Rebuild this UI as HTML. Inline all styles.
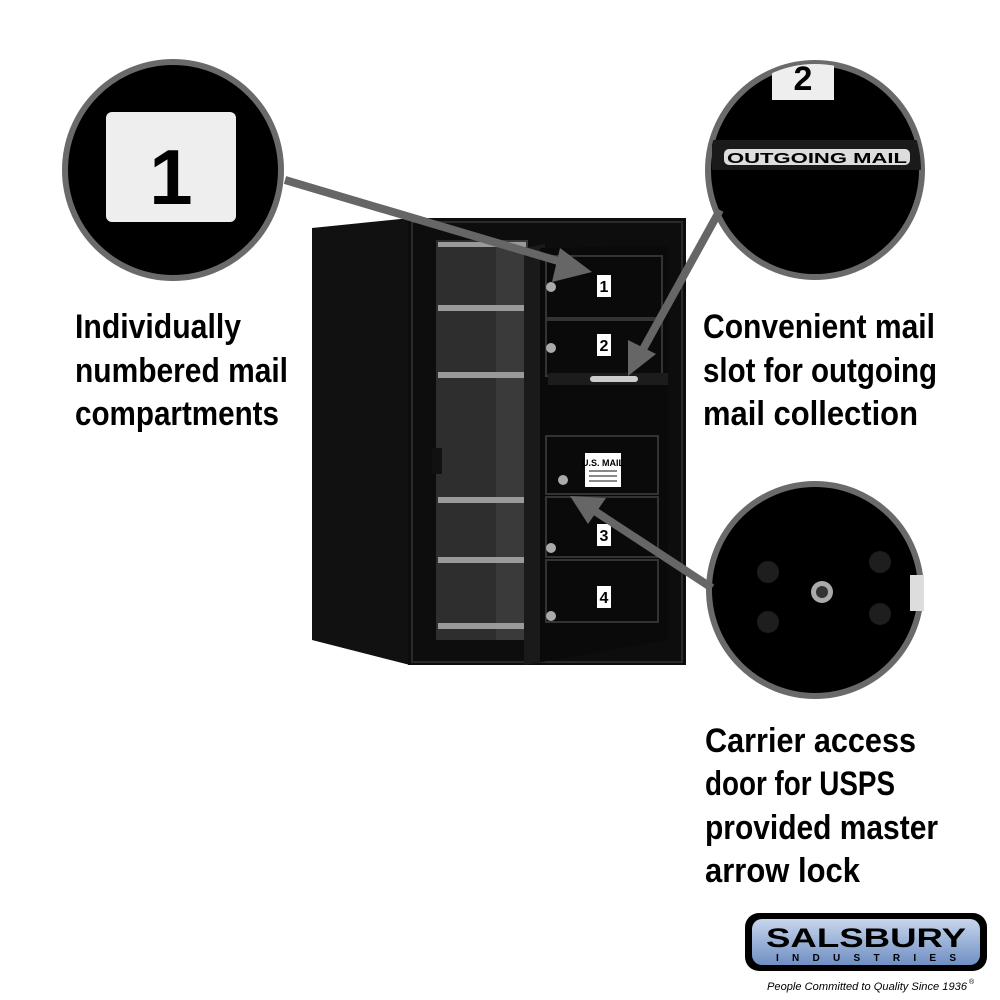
<!DOCTYPE html>
<html><head><style>body{margin:0;background:#fff}svg{display:block}</style></head><body>
<svg width="1000" height="1000" viewBox="0 0 1000 1000" xmlns="http://www.w3.org/2000/svg">
<rect width="1000" height="1000" fill="#fff"/>
<!-- cabinet -->
<polygon points="312,228 410,218 410,665 312,640" fill="#111"/>
<rect x="408" y="218" width="278" height="447" fill="#0d0d0d"/>
<rect x="412" y="222" width="270" height="440" fill="none" stroke="#2a2a2a" stroke-width="2"/>
<rect x="436" y="240" width="92" height="400" fill="#3a3a3a"/>
<rect x="436" y="240" width="60" height="400" fill="#2e2e2e"/>
<g fill="#9a9a9a">
<rect x="438" y="305" width="88" height="6"/><rect x="438" y="372" width="88" height="6"/>
<rect x="438" y="497" width="88" height="6"/><rect x="438" y="557" width="88" height="6"/>
<rect x="438" y="623" width="88" height="6"/><rect x="438" y="242" width="88" height="5"/>
</g>
<rect x="432" y="448" width="10" height="26" fill="#111"/>
<polygon points="524,248 545,244 545,662 524,665" fill="#1a1a1a"/>
<polygon points="540,248 668,246 668,640 540,662" fill="#0a0a0a"/>
<g stroke="#333" stroke-width="2" fill="none">
<rect x="546" y="256" width="116" height="62"/><rect x="546" y="320" width="116" height="56"/>
<rect x="546" y="436" width="112" height="58"/><rect x="546" y="497" width="112" height="60"/><rect x="546" y="560" width="112" height="62"/>
</g>
<rect x="548" y="373" width="120" height="12" fill="#1c1c1c"/>
<rect x="590" y="376" width="48" height="6" rx="3" fill="#ccc"/>
<g fill="#fff"><rect x="597" y="275" width="14" height="22"/><rect x="597" y="334" width="14" height="22"/>
<rect x="597" y="524" width="14" height="22"/><rect x="597" y="586" width="14" height="22"/>
<rect x="585" y="453" width="36" height="34"/></g>
<text x="603" y="466" font-family="Liberation Sans" font-weight="bold" font-size="9" text-anchor="middle">U.S. MAIL</text>
<g fill="#888"><rect x="589" y="470" width="28" height="2"/><rect x="589" y="475" width="28" height="2"/><rect x="589" y="480" width="28" height="2"/></g>
<g font-family="Liberation Sans" font-weight="bold" font-size="16" fill="#000" text-anchor="middle">
<text x="604" y="292">1</text><text x="604" y="351">2</text><text x="604" y="541">3</text><text x="604" y="603">4</text></g>
<g fill="#aaa"><circle cx="551" cy="287" r="5"/><circle cx="551" cy="348" r="5"/><circle cx="563" cy="480" r="5"/><circle cx="551" cy="548" r="5"/><circle cx="551" cy="616" r="5"/></g>
<!-- circles -->
<circle cx="173" cy="170" r="108" fill="#000" stroke="#6a6a6a" stroke-width="6"/>
<rect x="106" y="112" width="130" height="110" rx="6" fill="#eee"/>
<text x="171" y="204" font-family="Liberation Sans" font-weight="bold" font-size="78" text-anchor="middle">1</text>
<clipPath id="c2"><circle cx="815" cy="170" r="106"/></clipPath>
<circle cx="815" cy="170" r="107" fill="#000" stroke="#6a6a6a" stroke-width="6"/>
<g clip-path="url(#c2)">
<rect x="772" y="60" width="62" height="40" fill="#eee"/>
<text x="803" y="90" font-family="Liberation Sans" font-weight="bold" font-size="34" text-anchor="middle">2</text>
<rect x="712" y="140" width="210" height="30" fill="#1a1a1a"/>
<rect x="724" y="149" width="186" height="16" rx="5" fill="#ddd"/>
<text x="817" y="163" font-family="Liberation Sans" font-weight="bold" font-size="15" text-anchor="middle" textLength="180" lengthAdjust="spacingAndGlyphs">OUTGOING MAIL</text>
</g>
<circle cx="815" cy="590" r="106" fill="#000" stroke="#6a6a6a" stroke-width="6"/>
<g fill="#1e1e1e"><circle cx="768" cy="572" r="11"/><circle cx="880" cy="562" r="11"/><circle cx="768" cy="622" r="11"/><circle cx="880" cy="614" r="11"/></g>
<circle cx="822" cy="592" r="11" fill="#aaa"/><circle cx="822" cy="592" r="6" fill="#333"/>
<rect x="910" y="575" width="14" height="36" fill="#ddd"/>
<!-- arrows -->
<g stroke="#666" stroke-width="8" fill="#666">
<line x1="285" y1="180" x2="575" y2="266"/>
<line x1="720" y1="210" x2="636" y2="362"/>
<line x1="712" y1="588" x2="584" y2="504"/>
</g>
<g fill="#666">
<polygon points="592,272 560,248 552,282"/>
<polygon points="628,376 628,340 656,354"/>
<polygon points="570,496 606,498 588,524"/>
</g>
<!-- text -->
<g font-family="Liberation Sans" font-weight="bold" font-size="34" fill="#000">
<text x="75" y="338" textLength="166" lengthAdjust="spacingAndGlyphs">Individually</text>
<text x="75" y="382" textLength="213" lengthAdjust="spacingAndGlyphs">numbered mail</text>
<text x="75" y="425" textLength="204" lengthAdjust="spacingAndGlyphs">compartments</text>
<text x="703" y="338" textLength="232" lengthAdjust="spacingAndGlyphs">Convenient mail</text>
<text x="703" y="382" textLength="234" lengthAdjust="spacingAndGlyphs">slot for outgoing</text>
<text x="703" y="425" textLength="215" lengthAdjust="spacingAndGlyphs">mail collection</text>
<text x="705" y="752" textLength="211" lengthAdjust="spacingAndGlyphs">Carrier access</text>
<text x="705" y="795" textLength="190" lengthAdjust="spacingAndGlyphs">door for USPS</text>
<text x="705" y="839" textLength="233" lengthAdjust="spacingAndGlyphs">provided master</text>
<text x="705" y="882" textLength="155" lengthAdjust="spacingAndGlyphs">arrow lock</text>
</g>
<!-- logo -->
<defs><linearGradient id="g" x1="0" y1="0" x2="0" y2="1"><stop offset="0" stop-color="#c8d6ec"/><stop offset="1" stop-color="#6f8fc4"/></linearGradient></defs>
<rect x="745" y="913" width="242" height="58" rx="14" fill="#000"/>
<rect x="752" y="919" width="228" height="46" rx="10" fill="url(#g)"/>
<text x="866" y="947" font-family="Liberation Sans" font-weight="bold" font-size="27" text-anchor="middle" textLength="200" lengthAdjust="spacingAndGlyphs">SALSBURY</text>
<text x="866" y="961" font-family="Liberation Sans" font-weight="bold" font-size="10" text-anchor="middle" textLength="180" lengthAdjust="spacing">INDUSTRIES</text>
<text x="767" y="990" font-family="Liberation Sans" font-style="italic" font-size="11" textLength="200" lengthAdjust="spacingAndGlyphs">People Committed to Quality Since 1936</text>
<text x="969" y="984" font-family="Liberation Sans" font-size="7">®</text>
</svg>
</body></html>
